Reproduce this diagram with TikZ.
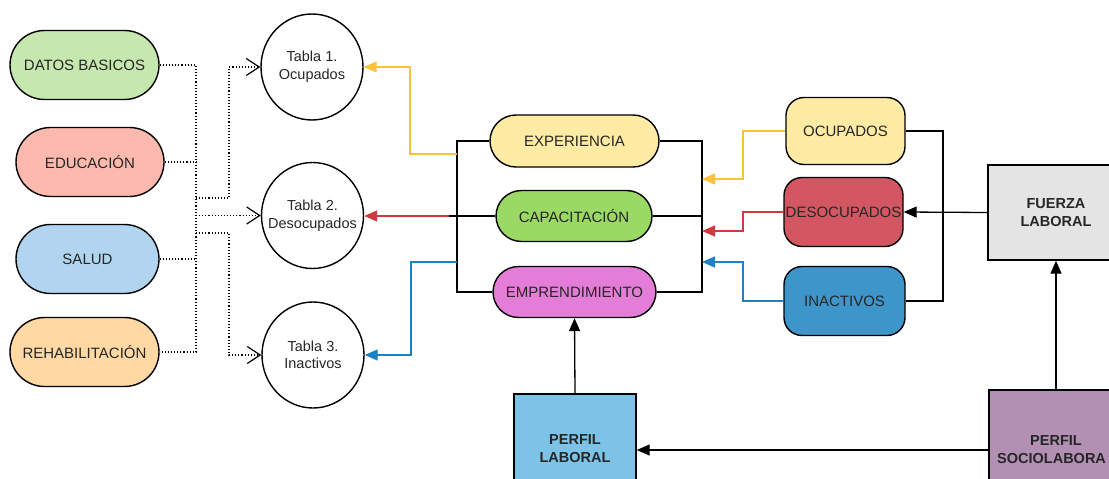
\documentclass[tikz,border=0pt]{standalone}
\usepackage{fontspec}
\setmainfont{Liberation Sans}
\usetikzlibrary{shapes.misc,shapes.geometric,arrows.meta}
\definecolor{cdatos}{HTML}{C6E7AE}
\definecolor{cedu}{HTML}{FDB9AE}
\definecolor{csalud}{HTML}{B2D5EF}
\definecolor{crehab}{HTML}{FFD8A3}
\definecolor{cexp}{HTML}{FFEBA3}
\definecolor{ccap}{HTML}{9AD964}
\definecolor{cemp}{HTML}{E47DD8}
\definecolor{cdeso}{HTML}{D35763}
\definecolor{cinac}{HTML}{3D95C9}
\definecolor{cfuerza}{HTML}{E4E4E4}
\definecolor{cplab}{HTML}{7DC3E8}
\definecolor{cpsoc}{HTML}{B290B4}
\definecolor{lylw}{HTML}{FBC13A}
\definecolor{lred}{HTML}{D0393F}
\definecolor{lblue}{HTML}{1C82C3}
\tikzset{
  txt/.style={font=\fontsize{14.5}{17.5}\selectfont, align=center, text=black!85},
  ptxt/.style={font=\fontsize{15}{18}\selectfont, align=center, text=black!85},
  pill/.style={rounded rectangle, draw=black, line width=1.4pt, inner sep=0pt, ptxt},
  rpill/.style={rectangle, rounded corners=18pt, draw=black, line width=1.4pt, inner sep=0pt, ptxt},
  tabla/.style={ellipse, draw=black, line width=1.4pt, fill=white, inner xsep=-25pt, inner ysep=0pt, minimum width=102pt, minimum height=106pt, txt},
  sbox/.style={rectangle, draw=black, line width=1.4pt, inner sep=0pt, txt, font=\fontsize{14.5}{18}\selectfont\bfseries},
  dotl/.style={dotted, line width=1.1pt},
  darr/.style={dotl, -{Straight Barb[length=13pt,width=17pt,line width=1.2pt]}},
  conn/.style={line width=1.3pt},
  tarr/.style={conn, -{Triangle[length=13pt,width=11pt]}}
}
\begin{document}
\begin{tikzpicture}[x=1pt,y=-1pt]
\clip (0,0) rectangle (1109,479);
\fill[white] (0,0) rectangle (1109,479);
% left pills
\node[pill, fill=cdatos, minimum width=149pt, minimum height=69pt] (datos) at (84.5,65) {DATOS BASICOS};
\node[pill, fill=cedu, minimum width=148pt, minimum height=69pt] (edu) at (90,162) {EDUCACIÓN};
\node[pill, fill=csalud, minimum width=143pt, minimum height=69pt] (salud) at (87.5,259) {SALUD};
\node[pill, fill=crehab, minimum width=149pt, minimum height=69pt] (rehab) at (84.5,352) {REHABILITACIÓN};
% tablas
\node[tabla] (t1) at (312,67) {Tabla 1.\\Ocupados};
\node[tabla] (t2) at (312.5,215.5) {Tabla 2.\\Desocupados};
\node[tabla] (t3) at (313,355) {Tabla 3.\\Inactivos};
% middle pills
\node[pill, fill=cexp, minimum width=169pt, minimum height=52pt] (exp) at (574.5,141) {EXPERIENCIA};
\node[pill, fill=ccap, minimum width=156pt, minimum height=51pt] (cap) at (574,216) {CAPACITACIÓN};
\node[pill, fill=cemp, minimum width=163pt, minimum height=51pt] (emp) at (574.5,292) {EMPRENDIMIENTO};
% right pills
\node[rpill, fill=cexp, minimum width=119pt, minimum height=67pt] (ocu) at (845.5,131) {OCUPADOS};
\node[rpill, fill=cdeso, minimum width=119pt, minimum height=69pt] (deso) at (843.5,212) {DESOCUPADOS};
\node[rpill, fill=cinac, minimum width=121pt, minimum height=69pt] (inac) at (844.5,301) {INACTIVOS};
% boxes
\node[sbox, fill=cfuerza, minimum width=136pt, minimum height=95pt] (fuerza) at (1056,212.5) {FUERZA\\LABORAL};
\node[sbox, fill=cplab, minimum width=122pt, minimum height=110pt] (plab) at (575,449) {PERFIL\\LABORAL};
\node[sbox, fill=cpsoc, minimum width=134pt, minimum height=120pt] (psoc) at (1056,450) {PERFIL\\SOCIOLABORA\phantom{L}};
% junction coordinates
\coordinate (jd) at (196,65);
\coordinate (je) at (196,162);
\coordinate (js) at (196,259);
\coordinate (jr) at (196,352);
\coordinate (j1) at (196,198);
\coordinate (j2) at (196,215.5);
\coordinate (j3) at (196,233);
% dotted connectors
\draw[dotl] (datos.east) -- (jd) -- (jr) -- (rehab.east);
\draw[dotl] (edu.east) -- (je);
\draw[dotl] (salud.east) -- (js);
\draw[darr] (j1) -- (229,198) |- (t1.west);
\draw[darr] (j2) -- (t2.west);
\draw[darr] (j3) -- (229,233) |- (t3.west);
% brackets around middle pills
\coordinate (br) at (702,216);
\draw[conn] (exp.west) -| (457,292) -- (emp.west);
\draw[conn] (cap.west) -- (449,216);
\draw[conn] (exp.east) -| (702,292) -- (emp.east);
\draw[conn] (cap.east) -- (br);
% coloured outputs to tablas
\draw[tarr, draw=lylw] (457,154) -- (410,154) |- (t1.east);
\draw[tarr, draw=lred] (449,216) -- (t2.east |- cap.west);
\draw[tarr, draw=lblue] (457,262) -- (411,262) |- (t3.east);
% coloured inputs from right pills
\coordinate (ay) at (702,179);
\coordinate (ar) at (702,231);
\coordinate (ab) at (702,262);
\draw[tarr, draw=lylw] (ocu.west) -| (743,179) -- (ay);
\draw[tarr, draw=lred] (deso.west) -| (743,231) -- (ar);
\draw[tarr, draw=lblue] (inac.west) -| (743,262) -- (ab);
% right bracket
\draw[conn] (ocu.east) -| (943,301) -- (inac.east);
% black arrows
\draw[tarr] (fuerza.west) -- (deso.east);
\draw[tarr] (plab.north) -- (emp.south);
\draw[tarr] (psoc.north) -- (fuerza.south);
\draw[tarr] (psoc.west) -- (psoc.west -| plab.east);
\end{tikzpicture}
\end{document}
